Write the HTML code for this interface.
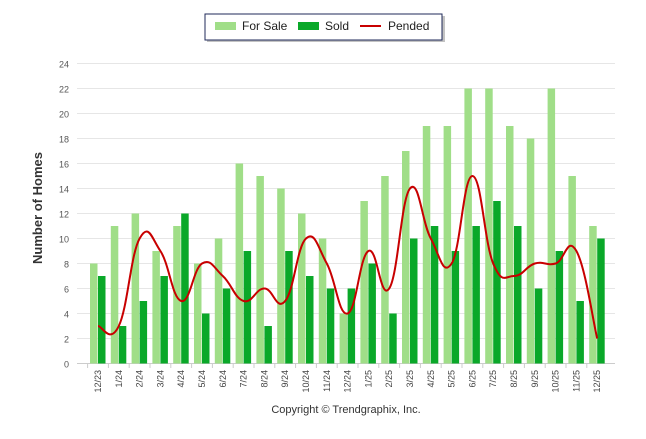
<!DOCTYPE html>
<html><head><meta charset="utf-8"><style>
body{margin:0;background:#fff;font-family:"Liberation Sans",sans-serif}
svg text{font-family:"Liberation Sans",sans-serif}
</style></head><body>
<svg width="646" height="434" viewBox="0 0 646 434">
<g id="grid"></g>
<g id="bars"></g>
<g id="line"></g>
<g id="xlab"></g>
<text x="42" y="208" transform="rotate(-90 42 208)" text-anchor="middle" font-size="13" font-weight="bold" fill="#333">Number of Homes</text>
<text x="346" y="413" text-anchor="middle" font-size="11" fill="#333">Copyright © Trendgraphix, Inc.</text>
<g>
<rect x="207" y="16" width="238" height="26" fill="#888" opacity="0.5"/>
<rect x="205" y="14" width="237" height="26" fill="#fff" stroke="#1f2a5a" stroke-width="1"/>
<rect x="215" y="22" width="21" height="8" fill="#a0de88"/>
<text x="242" y="30" font-size="12" fill="#222">For Sale</text>
<rect x="298" y="22" width="21" height="8" fill="#0aa829"/>
<text x="325" y="30" font-size="12" fill="#222">Sold</text>
<line x1="360" y1="26" x2="381" y2="26" stroke="#c80000" stroke-width="2"/>
<text x="388" y="30" font-size="12" fill="#222">Pended</text>
</g>
</svg>
<script>
const categories=["12/23","1/24","2/24","3/24","4/24","5/24","6/24","7/24","8/24","9/24","10/24","11/24","12/24","1/25","2/25","3/25","4/25","5/25","6/25","7/25","8/25","9/25","10/25","11/25","12/25"];
const forSale=[8,11,12,9,11,8,10,16,15,14,12,10,4,13,15,17,19,19,22,22,19,18,22,15,11];
const sold=[7,3,5,7,12,4,6,9,3,9,7,6,6,8,4,10,11,9,11,13,11,6,9,5,10];
const pended=[3,3,10,9,5,8,7,5,6,5,10,8,4,9,6,14,10,8,15,8,7,8,8,9,2];
const yTicks=[0,2,4,6,8,10,12,14,16,18,20,22,24];
const NS="http://www.w3.org/2000/svg";
const y0=363.5,ppu=12.5,x0=98,step=20.8;
const Y=v=>y0-v*ppu, X=i=>x0+i*step;
function mk(t,a,p){const e=document.createElementNS(NS,t);for(const k in a)e.setAttribute(k,a[k]);p.appendChild(e);return e;}
const g=document.getElementById('grid');
yTicks.forEach(t=>{
 const l=mk('line',{x1:77,x2:615,y1:Y(t),y2:Y(t),stroke:t===0?'#ccc':'#e6e6e6','stroke-width':1},g);
 
 
 const tx=mk('text',{x:69,y:Y(t)+4,'text-anchor':'end','font-size':9,fill:'#555'},g);tx.textContent=t;
 
 
});
const b=document.getElementById('bars'),xl=document.getElementById('xlab');
categories.forEach((c,i)=>{
 const r1=mk('rect',{x:X(i)-8,y:Y(forSale[i]),width:7.5,height:forSale[i]*ppu,fill:'#a0de88'},b);
 
 
 const r2=mk('rect',{x:X(i),y:Y(sold[i]),width:7.5,height:sold[i]*ppu,fill:'#0aa829'},b);
 
 
 mk('line',{x1:X(i)-step/2,x2:X(i)-step/2,y1:364,y2:368,stroke:'#ccc'},b);
 const t=mk('text',{x:X(i)+3,y:370,'text-anchor':'end','font-size':9,fill:'#444',transform:`rotate(-90 ${X(i)+3} 370)`},xl);t.textContent=c;
 
 
});
const pts=pended.map((v,i)=>[X(i),Y(v)]);
let d=`M${pts[0][0]},${pts[0][1]}`;
for(let i=0;i<pts.length-1;i++){
 const p0=pts[Math.max(0,i-1)],p1=pts[i],p2=pts[i+1],p3=pts[Math.min(pts.length-1,i+2)];
 const k=1/6*1.3;
 d+=` C${p1[0]+(p2[0]-p0[0])*k},${p1[1]+(p2[1]-p0[1])*k} ${p2[0]-(p3[0]-p1[0])*k},${p2[1]-(p3[1]-p1[1])*k} ${p2[0]},${p2[1]}`;
}
const pl=mk('path',{d:d,fill:'none',stroke:'#c80000','stroke-width':2},document.getElementById('line'));


</script>
</body></html>
